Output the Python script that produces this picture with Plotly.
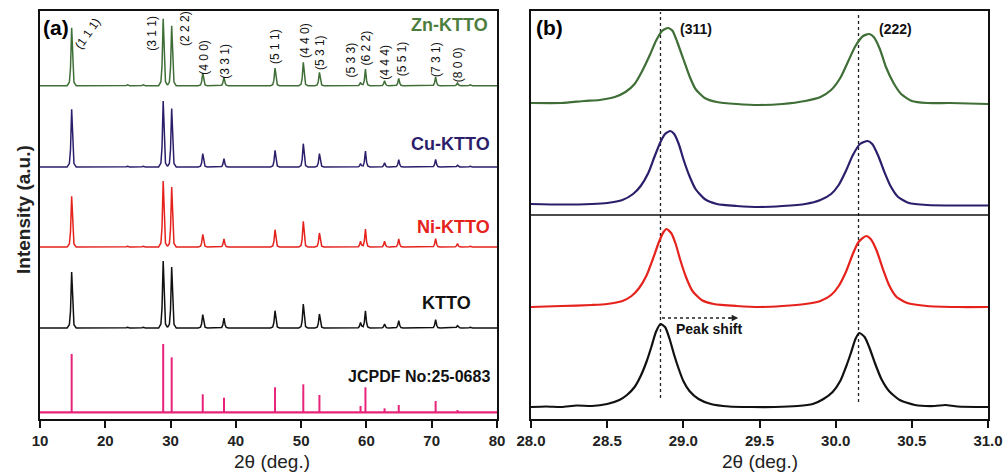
import numpy as np
import plotly.graph_objects as go

FONT = "Liberation Sans, Arial, sans-serif"

# ---------------- Panel (a) data ----------------
hkl_labels = ["(1 1 1)", "(3 1 1)", "(2 2 2)", "(4 0 0)", "(3 3 1)", "(5 1 1)", "(4 4 0)",
              "(5 3 1)", "(5 3 3)", "(6 2 2)", "(4 4 4)", "(5 5 1)", "(7 3 1)", "(8 0 0)"]
peak_pos = [14.85, 28.87, 30.17, 34.93, 38.18, 46.0, 50.33, 52.8, 59.1, 59.85, 62.78, 64.95, 70.6, 73.95]

zn_h = [58, 67, 60, 12.7, 8.7, 17.7, 23.3, 13.3, 3.3, 16.7, 5.0, 7.3, 8.7, 2.7]
cu_h = [57.7, 66, 58.4, 13.4, 8.4, 16.7, 23.3, 13.3, 3.3, 16.0, 4.3, 7.3, 7.7, 1.7]
ni_h = [50.7, 66, 60, 12.7, 8.0, 17.3, 25.7, 14.0, 5.7, 18.0, 5.7, 8.0, 8.3, 3.3]
ktto_h = [56, 67, 61, 13.3, 10.0, 17.3, 24.0, 14.0, 5.6, 17.3, 4.0, 7.3, 8.3, 2.3]
jcpdf_h = [58.3, 68.3, 55, 18.0, 14.6, 25.0, 28.0, 17.3, 6.3, 25.0, 4.0, 7.3, 11.3, 2.3]

minor_pos = [23.4, 25.8, 33.0, 75.9]
minor_h = [0.8, 0.8, 0.7, 0.8]

offset_zn, offset_cu, offset_ni, offset_ktto, offset_jcpdf = 333.3, 252.0, 172.0, 91.0, 6.7

# label positions for hkl (2theta, intensity a.u.)
hkl_lx = [17.35, 27.1, 32.2, 35.1, 38.3, 46.0, 50.6, 52.9, 57.7, 60.0, 62.8, 65.5, 70.65, 74.07]
hkl_ly = [386, 386, 391, 362, 358, 372, 378, 366, 359, 371, 357, 360, 360, 354]

# ---------------- Panel (b) data ----------------
bx_zn = [28.00, 28.20, 28.35, 28.45, 28.55, 28.62, 28.68, 28.73, 28.78, 28.82, 28.86, 28.90, 28.93,
         28.96, 29.00, 29.04, 29.08, 29.14, 29.22, 29.35, 29.50, 29.65, 29.80, 29.90, 29.97, 30.03,
         30.08, 30.13, 30.18, 30.22, 30.25, 30.29, 30.33, 30.38, 30.43, 30.50, 30.60, 30.75, 31.00]
by_zn = [316, 316, 318, 319, 322, 327, 335, 348, 364, 378, 388, 391, 388,
         377, 360, 343, 330, 321, 317, 315, 314, 315, 318, 322, 329, 341,
         357, 373, 383, 385, 382, 370, 352, 336, 325, 318, 316, 316, 315]

bx_cu = [28.00, 28.20, 28.40, 28.50, 28.60, 28.67, 28.72, 28.77, 28.81, 28.85, 28.88, 28.915, 28.94,
         28.97, 29.00, 29.04, 29.08, 29.14, 29.22, 29.35, 29.50, 29.65, 29.80, 29.90, 29.97, 30.02,
         30.07, 30.11, 30.16, 30.21, 30.24, 30.28, 30.32, 30.36, 30.41, 30.48, 30.60, 30.80, 31.00]
by_cu = [215, 214.5, 215, 216, 219, 225, 233, 246, 262, 277, 285, 288, 285,
         275, 260, 243, 230, 220, 215, 213, 212, 213, 215, 219, 225, 234,
         249, 263, 275, 278, 275, 263, 247, 233, 222, 216, 214, 213.5, 213.5]

bx_ni = [28.00, 28.20, 28.40, 28.50, 28.60, 28.66, 28.71, 28.76, 28.80, 28.84, 28.87, 28.89, 28.92,
         28.95, 28.98, 29.02, 29.06, 29.12, 29.20, 29.35, 29.50, 29.65, 29.80, 29.90, 29.97, 30.02,
         30.07, 30.11, 30.15, 30.20, 30.23, 30.27, 30.31, 30.35, 30.40, 30.47, 30.60, 30.80, 31.00]
by_ni = [112, 113, 114, 115, 118, 123, 131, 144, 160, 177, 187, 190, 186,
         175, 159, 141, 128, 119, 115, 113, 112, 113, 115, 118, 124, 133,
         148, 164, 177, 183, 180, 168, 150, 134, 122, 116, 113, 112, 112]

bx_ktto = [28.00, 28.10, 28.20, 28.30, 28.40, 28.50, 28.58, 28.63, 28.68, 28.72, 28.76, 28.79, 28.82,
           28.85, 28.88, 28.91, 28.94, 28.97, 29.00, 29.04, 29.10, 29.18, 29.30, 29.45, 29.60, 29.75,
           29.85, 29.92, 29.98, 30.03, 30.07, 30.10, 30.13, 30.155, 30.19, 30.22, 30.26, 30.30, 30.35,
           30.42, 30.52, 30.65, 30.72, 30.80, 31.00]
by_ktto = [12, 12.5, 12, 13.5, 13, 15, 19, 24, 32, 43, 58, 72, 87,
           95, 92, 80, 64, 50, 38, 28, 20, 15, 12.5, 12, 12, 13,
           15, 20, 27, 38, 53, 66, 80, 86, 82, 72, 55, 40, 28,
           19, 14, 13, 14, 12.5, 12]

ref_lines_x = [28.85, 30.15]
ref_lines_y_end = [21, 17]

# ---------------- colours ----------------
C_ZN = "#3f6e37"
C_ZN_TXT = "#4d7d3e"
C_CU = "#2d1e6b"
C_NI = "#e5221c"
C_K = "#111111"
C_PINK = "#e8237a"


def xrd_profile(pos, heights, base):
    offs = np.array([-0.7, -0.35, -0.18, 0.0, 0.18, 0.35, 0.7])
    frac = np.array([0.0, 0.06, 0.3, 1.0, 0.3, 0.06, 0.0])
    xs = np.unique(np.concatenate([np.array([10.0, 80.0])] + [p + offs for p in pos]))
    xs = xs[(xs >= 10) & (xs <= 80)]
    ys = np.full(xs.shape, base, dtype=float)
    for p, h in zip(pos, heights):
        ys += h * np.interp(xs - p, offs, frac, left=0, right=0)
    return xs, ys


fig = go.Figure()

for hs, base, col in [(zn_h, offset_zn, C_ZN), (cu_h, offset_cu, C_CU), (ni_h, offset_ni, C_NI),
                      (ktto_h, offset_ktto, C_K)]:
    xs, ys = xrd_profile(list(peak_pos) + minor_pos, list(hs) + minor_h, base)
    fig.add_trace(go.Scatter(x=xs, y=ys, mode="lines", line=dict(color=col, width=1.5),
                             xaxis="x", yaxis="y", hoverinfo="skip"))

# JCPDF sticks
sx, sy = [], []
for p, h in zip(peak_pos, jcpdf_h):
    sx += [p, p, None]
    sy += [offset_jcpdf, offset_jcpdf + h, None]
fig.add_trace(go.Scatter(x=[10, 80], y=[offset_jcpdf, offset_jcpdf], mode="lines",
                         line=dict(color=C_PINK, width=2.2), xaxis="x", yaxis="y"))
fig.add_trace(go.Scatter(x=sx, y=sy, mode="lines", line=dict(color=C_PINK, width=2),
                         xaxis="x", yaxis="y"))

# Panel (b) reference dotted lines
for xv, ye in zip(ref_lines_x, ref_lines_y_end):
    fig.add_trace(go.Scatter(x=[xv, xv], y=[ye, 407], mode="lines",
                             line=dict(color="#222", width=1.3, dash="dot"),
                             xaxis="x2", yaxis="y2"))

for bx, by, col in [(bx_zn, by_zn, C_ZN), (bx_cu, by_cu, C_CU), (bx_ni, by_ni, C_NI), (bx_ktto, by_ktto, C_K)]:
    fig.add_trace(go.Scatter(x=bx, y=by, mode="lines", line=dict(color=col, width=2.2, shape="spline", smoothing=0.6),
                             xaxis="x2", yaxis="y2"))

# peak shift dotted arrow
fig.add_trace(go.Scatter(x=[28.86, 29.31], y=[101, 101], mode="lines",
                         line=dict(color="#222", width=1.3, dash="dot"), xaxis="x2", yaxis="y2"))

annotations = []
# hkl labels
for t, lx, ly in zip(hkl_labels, hkl_lx, hkl_ly):
    annotations.append(dict(x=lx, y=ly, xref="x", yref="y", text=t, showarrow=False,
                            textangle=-55 if t == "(1 1 1)" else -90,
                            font=dict(family=FONT, size=12, color="#111")))

# sample labels
for t, xr, yv, col, sz in [("Zn-KTTO", 78.9, 394, C_ZN_TXT, 18), ("Cu-KTTO", 79.2, 275, C_CU, 18),
                           ("Ni-KTTO", 79.2, 192, C_NI, 18), ("KTTO", 76.3, 116, C_K, 18),
                           ("JCPDF No:25-0683", 79.2, 43, C_K, 16)]:
    annotations.append(dict(x=xr, y=yv, xref="x", yref="y", text=t, showarrow=False,
                            xanchor="right", yanchor="middle",
                            font=dict(family=FONT, size=sz, color=col, weight="bold")))

# panel (b) texts
annotations += [
    dict(x=29.08, y=390, xref="x2", yref="y2", text="(311)", showarrow=False,
         font=dict(family=FONT, size=14, color="#111", weight="bold")),
    dict(x=30.39, y=390, xref="x2", yref="y2", text="(222)", showarrow=False,
         font=dict(family=FONT, size=14, color="#111", weight="bold")),
    dict(x=29.17, y=90, xref="x2", yref="y2", text="Peak shift", showarrow=False,
         font=dict(family=FONT, size=14, color="#111", weight="bold")),
    dict(x=29.36, y=101, ax=29.29, ay=101, xref="x2", yref="y2", axref="x2", ayref="y2",
         text="", showarrow=True, arrowhead=2, arrowsize=1, arrowwidth=1.3, arrowcolor="#222"),
    dict(x=41 / 1005, y=(475 - 27.5) / 475, xref="paper", yref="paper", text="(a)", showarrow=False,
         xanchor="left", yanchor="middle", font=dict(family=FONT, size=21, color="#000", weight="bold")),
    dict(x=534 / 1005, y=(475 - 27.5) / 475, xref="paper", yref="paper", text="(b)", showarrow=False,
         xanchor="left", yanchor="middle", font=dict(family=FONT, size=21, color="#000", weight="bold")),
    dict(x=272 / 1005, y=1 / 475, xref="paper", yref="paper", text="2θ (deg.)", showarrow=False,
         xanchor="center", yanchor="bottom", font=dict(family=FONT, size=19, color="#222")),
    dict(x=760 / 1005, y=1 / 475, xref="paper", yref="paper", text="2θ (deg.)", showarrow=False,
         xanchor="center", yanchor="bottom", font=dict(family=FONT, size=19, color="#222")),
    dict(x=23 / 1005, y=(475 - 210) / 475, xref="paper", yref="paper", text="Intensity (a.u.)",
         showarrow=False, textangle=-90, xanchor="center", yanchor="middle",
         font=dict(family=FONT, size=19, color="#222", weight="bold")),
]

ydom = [(475 - 419) / 475, (475 - 11) / 475]
axis_common = dict(showline=True, linecolor="#111", linewidth=1.5, mirror=True, showgrid=False,
                   zeroline=False)
fig.update_layout(
    width=1005, height=475, margin=dict(l=0, r=0, t=0, b=0),
    paper_bgcolor="white", plot_bgcolor="white", showlegend=False,
    xaxis=dict(domain=[40 / 1005, 497 / 1005], range=[10, 80], tickvals=list(range(10, 81, 10)),
               ticks="outside", ticklen=7, tickwidth=1.5, tickcolor="#111", anchor="y",
               tickfont=dict(family=FONT, size=15, color="#222", weight="bold"), automargin=False,
               **axis_common),
    yaxis=dict(domain=ydom, range=[0, 408], showticklabels=False, ticks="", anchor="x",
               automargin=False, **axis_common),
    xaxis2=dict(domain=[531 / 1005, 988 / 1005], range=[28, 31],
                tickvals=[28.0, 28.5, 29.0, 29.5, 30.0, 30.5, 31.0], tickformat=".1f",
                ticks="outside", ticklen=7, tickwidth=1.5, tickcolor="#111", anchor="y2",
                tickfont=dict(family=FONT, size=15, color="#222", weight="bold"), automargin=False,
                **axis_common),
    yaxis2=dict(domain=ydom, range=[0, 408], showticklabels=False, ticks="", anchor="x2",
                automargin=False, **axis_common),
    annotations=annotations,
    shapes=[dict(type="line", xref="x2 domain", yref="y2", x0=0, x1=1, y0=204, y1=204,
                 line=dict(color="#111", width=1.5))],
)

fig.write_html("out.html")
